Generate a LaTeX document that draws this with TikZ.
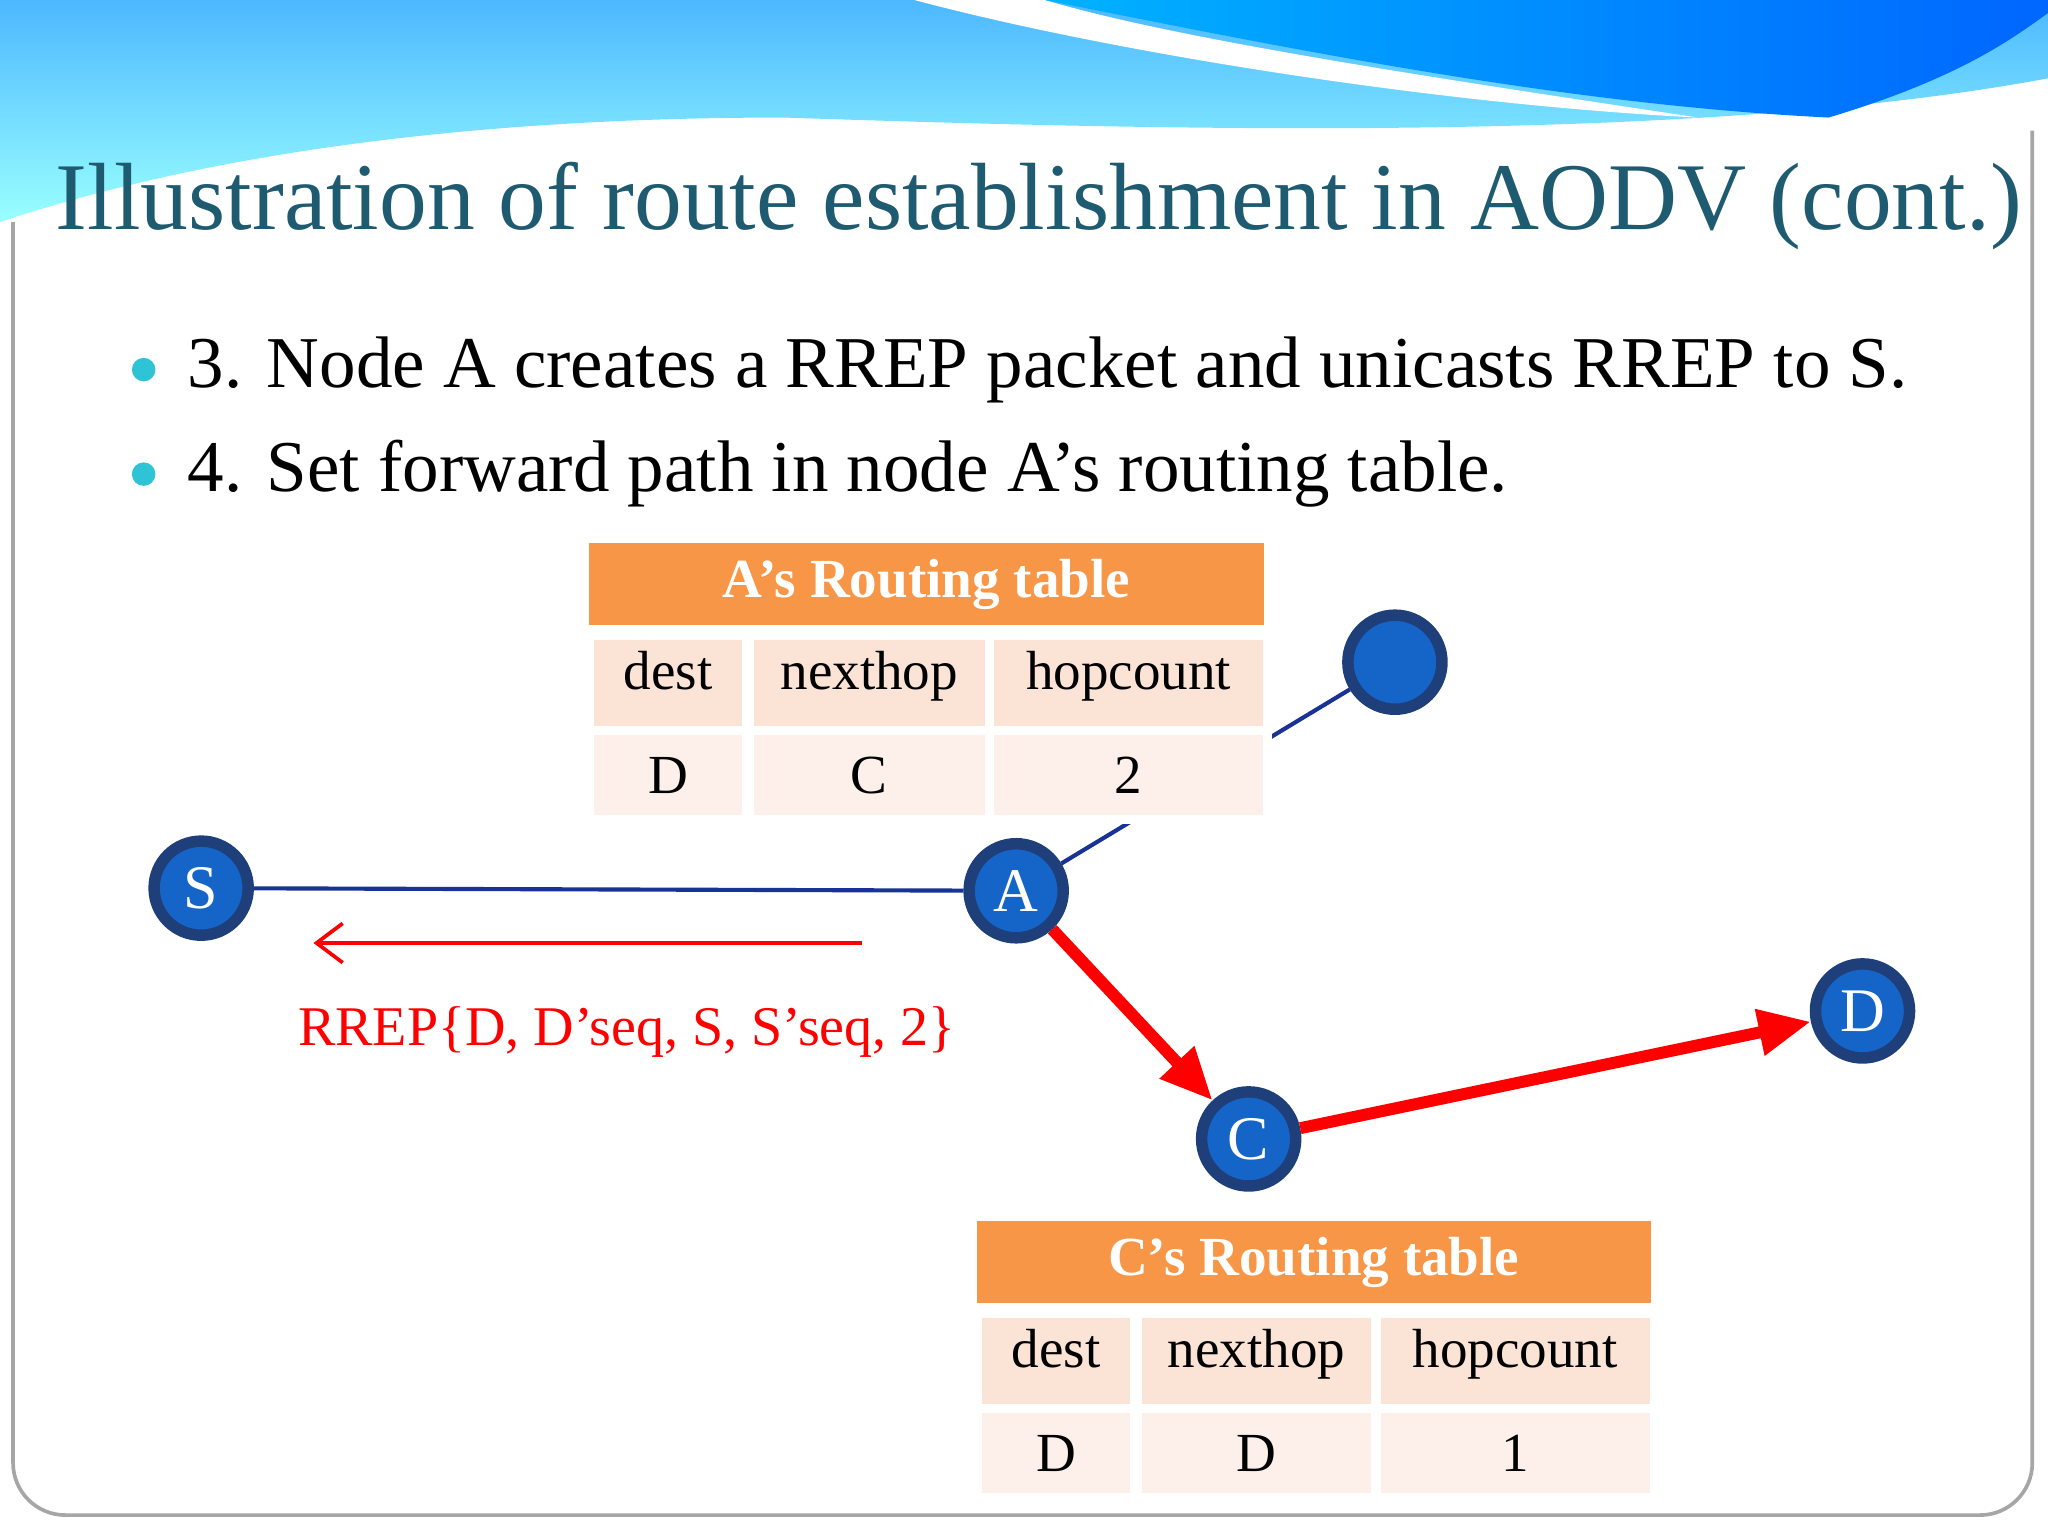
\documentclass[tikz,border=0pt]{standalone}
\usepackage{fontspec}
\setmainfont{Liberation Serif}
\usetikzlibrary{arrows.meta}
\definecolor{orng}{HTML}{F79646}
\definecolor{pk1}{HTML}{FBE3D6}
\definecolor{pk2}{HTML}{FDF0EA}
\definecolor{nodeblue}{HTML}{1565C8}
\definecolor{navy}{HTML}{1F3F7A}
\definecolor{titlec}{HTML}{1E5A70}
\definecolor{bul}{HTML}{2EC4D6}
\tikzset{
 net/.style={circle,fill=nodeblue,draw=navy,line width=2.5pt,minimum size=0.72cm,inner sep=0pt,text=white,font=\fontsize{13.5}{14}\selectfont},
 hdr/.style={fill=orng,draw=none,text=white,inner sep=0pt,font=\bfseries\fontsize{12}{12}\selectfont},
 cell/.style={draw=white,line width=2pt,inner sep=0pt,font=\fontsize{12}{12}\selectfont},
 toprow/.style={cell,fill=pk1,minimum height=0.73cm,text depth=0.2cm},
 botrow/.style={cell,fill=pk2,minimum height=0.68cm},
 big/.style={red,line width=2.6pt,-{Triangle[length=0.4cm,width=0.34cm]}}
}
\begin{document}
\begin{tikzpicture}[x=0.01cm,y=-0.01cm]
\useasboundingbox (0,0) rectangle (1568,1176);
% banner
\shade[top color=cyan!60!blue!70,bottom color=cyan!40] (0,0) -- (1568,0) -- (1568,60) .. controls (1300,110) and (900,100) .. (600,90) .. controls (350,90) and (150,120) .. (0,170) -- cycle;
\fill[white] (700,0) .. controls (850,40) and (1100,80) .. (1300,90) .. controls (1100,60) and (900,30) .. (800,0) -- cycle;
\shade[left color=cyan!70!blue,right color=blue!60!cyan] (800,0) .. controls (1000,40) and (1200,80) .. (1400,90) .. controls (1500,60) and (1540,30) .. (1568,10) -- (1568,0) -- cycle;
% frame
\draw[gray!70,line width=0.8pt,rounded corners=0.4cm] (10,170) -- (10,1160) -- (1556,1160) -- (1556,100);
% title
\node[anchor=west,text=titlec,font=\fontsize{20.8}{21}\selectfont,inner sep=0pt] (title) at (42,158) {Illustration of route establishment in AODV (cont.)};
% bullets
\fill[bul] (110,283) circle (9);
\fill[bul] (110,363) circle (9);
\node[anchor=west,inner sep=0pt,font=\fontsize{15.9}{16}\selectfont] (b1) at (143,283) {3. Node A creates a RREP packet and unicasts RREP to S.};
\node[anchor=west,inner sep=0pt,font=\fontsize{15.9}{16}\selectfont] (b2) at (143,363) {4. Set forward path in node A’s routing table.};
% nodes
\node[net] (S) at (154,680) {S};
\node[net] (A) at (778,682) {A};
\node[net] (C) at (956,872) {C};
\node[net] (D) at (1426,774) {D};
\node[net] (T) at (1068,507) {};
\draw[navy!80!blue,line width=0.9pt] (S) -- (A);
\draw[navy!80!blue,line width=0.9pt] (A) -- (T);
\draw[big] (A) -- (C);
\draw[big] (C) -- (D);
\coordinate (r1) at (660,722); \coordinate (r2) at (240,722);
\draw[red,line width=0.8pt,-{Straight Barb[length=0.2cm,width=0.3cm]}] (r1) -- (r2);
\node[red,font=\fontsize{12.2}{13}\selectfont] (lbl) at (480,790) {RREP\{D, D’seq, S, S’seq, 2\}};
% table A
\node[hdr,minimum width=5.17cm,minimum height=0.63cm,anchor=north west] (ah) at (450,415) {A’s Routing table};
\node[toprow,minimum width=1.2cm,anchor=north west] (a11) at (448,483) {dest};
\node[toprow,minimum width=1.84cm,anchor=north west] (a12) at (570,483) {nexthop};
\node[toprow,minimum width=2.13cm,anchor=north west] (a13) at (754,483) {hopcount};
\node[botrow,minimum width=1.2cm,anchor=north west] (a21) at (448,556) {D};
\node[botrow,minimum width=1.84cm,anchor=north west] (a22) at (570,556) {C};
\node[botrow,minimum width=2.13cm,anchor=north west] (a23) at (754,556) {2};
% table C
\node[hdr,minimum width=5.16cm,minimum height=0.63cm,anchor=north west] (ch) at (747,934) {C’s Routing table};
\node[toprow,minimum width=1.2cm,anchor=north west] (c11) at (745,1002) {dest};
\node[toprow,minimum width=1.83cm,anchor=north west] (c12) at (867,1002) {nexthop};
\node[toprow,minimum width=2.13cm,anchor=north west] (c13) at (1050,1002) {hopcount};
\node[botrow,minimum width=1.2cm,anchor=north west] (c21) at (745,1075) {D};
\node[botrow,minimum width=1.83cm,anchor=north west] (c22) at (867,1075) {D};
\node[botrow,minimum width=2.13cm,anchor=north west] (c23) at (1050,1075) {1};
\end{tikzpicture}
\end{document}
